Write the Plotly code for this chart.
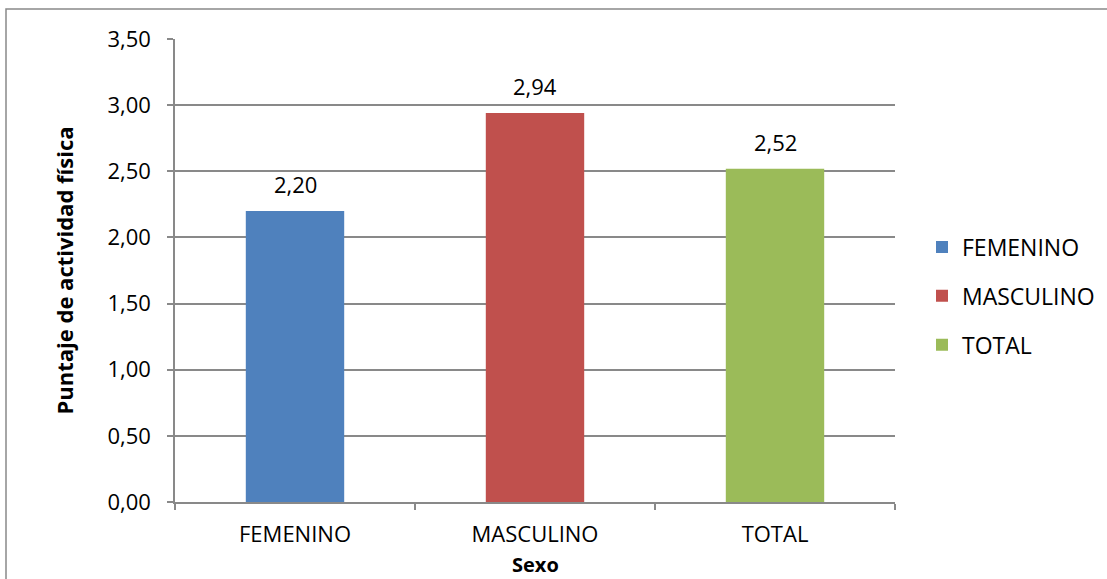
import plotly.graph_objects as go

categories = ["FEMENINO", "MASCULINO", "TOTAL"]
values = [2.20, 2.94, 2.52]
colors = ["#4F81BD", "#C0504D", "#9BBB59"]

FONT = "Open Sans"
FS = 23
GRAY = "#898989"

fig = go.Figure()
for cat, val, col in zip(categories, values, colors):
    fig.add_trace(go.Bar(
        x=[cat], y=[val], name=cat, legendgroup=cat,
        marker=dict(color=col, line=dict(width=0)),
        width=0.41,
    ))
    # value label above each bar
    fig.add_annotation(
        x=cat, y=val, xref="x", yref="y",
        text=f"{val:.2f}".replace(".", ","),
        showarrow=False, yanchor="bottom", yshift=10,
        font=dict(family=FONT, size=22, color="#000000"),
    )

W, H = 1107, 579
L, R, T, B = 175, 212, 39, 77
pw, ph = W - L - R, H - T - B

fig.update_layout(
    width=W, height=H,
    margin=dict(l=L, r=R, t=T, b=B, pad=0, autoexpand=False),
    paper_bgcolor="white", plot_bgcolor="white",
    barmode="overlay",
    separators=",.",
    font=dict(family=FONT, size=FS, color="#000000"),
    showlegend=True,
    legend=dict(
        x=(922 - L) / pw, xanchor="left",
        y=(H - B - 296) / ph, yanchor="middle",
        font=dict(family=FONT, size=FS),
        tracegroupgap=16,
        itemwidth=30,
        bgcolor="rgba(0,0,0,0)",
    ),
    xaxis=dict(
        type="category",
        tickson="boundaries",
        ticks="outside", ticklen=6, tickcolor=GRAY, tickwidth=1.5,
        showline=True, linecolor=GRAY, linewidth=1.5,
        showgrid=False,
        ticklabelstandoff=12,
        tickfont=dict(family=FONT, size=22),
    ),
    yaxis=dict(
        range=[0, 3.5],
        tickvals=[0, 0.5, 1.0, 1.5, 2.0, 2.5, 3.0, 3.5],
        tickformat=".2f",
        ticks="outside", ticklen=6, tickcolor=GRAY, tickwidth=1.5,
        showline=True, linecolor=GRAY, linewidth=1.5,
        showgrid=True, gridcolor=GRAY, gridwidth=1.5,
        zeroline=False,
        ticklabelstandoff=12,
        tickfont=dict(family=FONT, size=22),
        title=dict(text="<b>Puntaje de actividad física</b>", font=dict(family=FONT, size=22), standoff=28),
    ),
)

# x-axis title placed just under the category labels
fig.add_annotation(
    x=0.5, xref="paper", y=(H - B - 564) / ph, yref="paper",
    text="<b>Sexo</b>", showarrow=False, yanchor="middle", borderpad=0,
    font=dict(family=FONT, size=20, color="#000000"),
)

# outer chart border
fig.add_shape(
    type="rect", xref="paper", yref="paper",
    x0=(6 - L) / pw, x1=(W + 5 - L) / pw,
    y0=(H - B - (H + 5)) / ph, y1=(H - B - 9) / ph,
    line=dict(color=GRAY, width=1.5), fillcolor="rgba(0,0,0,0)", layer="below",
)

fig.write_html("out.html")
